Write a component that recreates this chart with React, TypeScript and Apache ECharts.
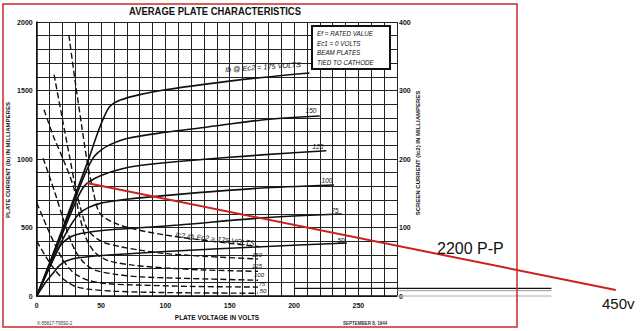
import React, { useEffect, useRef } from "react";
import * as echarts from "echarts";

// ---- data (plate voltage V, current) ----
// Plate current Ib (mA, left axis) for each screen voltage
const ib175 = [[0,0],[10,240],[20,490],[30,740],[40,990],[47,1180],[52,1300],[57,1385],[65,1430],[80,1470],[100,1505],[130,1545],[170,1590],[212,1628]];
const ib150 = [[0,0],[10,235],[20,475],[30,715],[38,900],[44,1010],[50,1065],[57,1105],[70,1150],[100,1195],[130,1230],[175,1285],[220,1314]];
const ib125 = [[0,0],[10,225],[20,455],[30,680],[36,790],[40,830],[50,880],[65,925],[80,952],[110,982],[175,1030],[225,1060]];
const ib100 = [[0,0],[10,210],[20,410],[27,525],[33,600],[40,645],[50,678],[65,700],[80,716],[110,742],[175,788],[231,810]];
const ib75 = [[0,0],[8,170],[14,290],[19,375],[24,418],[30,445],[40,465],[55,482],[80,498],[110,518],[175,570],[237,598]];
const ib50 = [[0,0],[7,100],[13,170],[18,225],[23,255],[30,275],[40,287],[56,299],[100,325],[175,360],[241,387]];
// Screen current Ic2 (mA, right axis)
const ic175 = [[25,381],[30,312],[35,248],[39,199],[44,152],[49,121],[60,107],[75,98],[100,89],[127,82],[173,72]];
const ic150 = [[13.5,323],[20,258],[26,199],[30,160],[35,122],[40,96],[50,80],[65,72],[80,67],[100,62],[130,58],[172,54]];
const ic125 = [[5.7,272],[13,233],[20.7,199],[28.5,160],[33,120],[38,86],[45,64],[55,52],[75,45],[100,41],[130,38],[172,36]];
const ic100 = [[5,201],[10,174],[15,146],[20,116],[25,88],[30,66],[37,48],[45,38],[60,32],[80,28],[110,26],[172,23]];
const ic75 = [[0,136],[5,114],[10,92],[15,72],[20,54],[25,41],[30,32],[40,23],[55,18],[80,16],[120,14],[172,13]];
const ic50 = [[0,80],[5,64],[10,49],[15,36],[20,26],[25,19],[30,14],[40,10],[60,7],[100,5],[172,4]];
// Load line (2200 P-P, 450 V)
const loadLine = [[39,825],[450,44]];
// extra baseline strokes beyond the grid
const baseBlack = [[200,56],[400,56]];
const baseGray1 = [[280,39],[400,39]];
const baseGray2 = [[280,0],[400,0]];

const xTickLabels = [0, 50, 100, 150, 200, 250];
const leftTickLabels = [0, 500, 1000, 1500, 2000];
const boxLines = ["Ef = RATED VALUE", "Ec1 = 0 VOLTS", "BEAM PLATES", "TIED TO CATHODE"];
const solidLabels = ["150", "125", "100", "75", "50"];
const dashLabels = ["150", "125", "100", "75", "50"];

const FONT = "Liberation Sans, Arial, sans-serif";
const PX_PER_V = 360.3 / 280;
const EXT_MAX = 460;

export default function App() {
  const ref = useRef<HTMLDivElement>(null);
  useEffect(() => {
    if (!ref.current) return;
    const chart = echarts.init(ref.current, null, { renderer: "svg" });
    const solid = (data: number[][]) => ({
      type: "line", data, xAxisIndex: 0, yAxisIndex: 0, showSymbol: false, smooth: 0.3,
      lineStyle: { color: "#111", width: 1.6 }, silent: true,
    });
    const dashed = (data: number[][]) => ({
      type: "line", data, xAxisIndex: 0, yAxisIndex: 1, showSymbol: false, smooth: 0.3,
      lineStyle: { color: "#111", width: 1.4, type: [6, 3] }, silent: true,
    });
    const plain = (data: number[][], color: string, width: number, z = 2) => ({
      type: "line", data, xAxisIndex: 1, yAxisIndex: 2, showSymbol: false, clip: false, z,
      lineStyle: { color, width }, silent: true,
    });
    const axisLabelStyle = { fontSize: 7, fontWeight: "bold", color: "#111", fontFamily: FONT };
    const solidLabelPos = [[311,110],[318,146],[327,180],[335,210],[341,240]];
    const dashLabelPos = [[257,255],[257,266],[259,275],[262,284],[263,291]];
    const italic = (text: string, x: number, y: number, rot = 0, size = 6.5) => ({
      type: "text", x, y, rotation: rot, z: 10,
      style: { text, fill: "#111", font: `italic ${size}px ${FONT}`, align: "center", verticalAlign: "middle" },
    });
    const option: any = {
      animation: false,
      backgroundColor: "#fff",
      grid: [
        { left: 36.7, top: 22, width: 360.3, height: 274 },
        { left: 36.7, top: 22, width: EXT_MAX * PX_PER_V, height: 274 },
      ],
      xAxis: [
        {
          type: "value", gridIndex: 0, min: 0, max: 280, interval: 10,
          axisLine: { lineStyle: { color: "#111", width: 1.5 } },
          axisTick: { show: false },
          splitLine: { lineStyle: { color: "#222", width: 1 } },
          axisLabel: { ...axisLabelStyle, margin: 6, formatter: (v: number) => (xTickLabels.includes(v) ? String(v) : "") },
        },
        { type: "value", gridIndex: 1, min: 0, max: EXT_MAX, show: false },
      ],
      yAxis: [
        {
          type: "value", gridIndex: 0, min: 0, max: 2000, interval: 100,
          axisLine: { show: true, lineStyle: { color: "#111", width: 1.5 } },
          axisTick: { show: false },
          splitLine: { lineStyle: { color: "#222", width: 1 } },
          axisLabel: { ...axisLabelStyle, margin: 4, formatter: (v: number) => (leftTickLabels.includes(v) ? String(v) : "") },
        },
        {
          type: "value", gridIndex: 0, min: 0, max: 400, interval: 100, position: "right",
          axisLine: { show: false }, axisTick: { show: false }, splitLine: { show: false },
          axisLabel: { ...axisLabelStyle, margin: 2 },
        },
        { type: "value", gridIndex: 1, min: 0, max: 2000, show: false },
      ],
      series: [
        solid(ib175), solid(ib150), solid(ib125), solid(ib100), solid(ib75), solid(ib50),
        dashed(ic175), dashed(ic150), dashed(ic125), dashed(ic100), dashed(ic75), dashed(ic50),
        plain(baseBlack, "#111", 1.3), plain(baseGray1, "#999", 1), plain(baseGray2, "#aaa", 1),
        plain(loadLine, "#cc2020", 2, 5),
      ],
      graphic: [
        { type: "rect", shape: { x: 3, y: 4, width: 514, height: 323 }, style: { fill: "none", stroke: "#c82828", lineWidth: 1.5 }, z: 20 },
        { type: "text", x: 215, y: 11.5, scaleX: 0.86, z: 10,
          style: { text: "AVERAGE PLATE CHARACTERISTICS", fill: "#111", font: `bold 11px ${FONT}`, align: "center", verticalAlign: "middle" } },
        { type: "text", x: 8, y: 160, rotation: Math.PI / 2, z: 10,
          style: { text: "PLATE CURRENT (Ib) IN MILLIAMPERES", fill: "#111", font: `bold 6px ${FONT}`, align: "center", verticalAlign: "middle" } },
        { type: "text", x: 418, y: 153, rotation: Math.PI / 2, z: 10,
          style: { text: "SCREEN CURRENT (Ic2) IN MILLIAMPERES", fill: "#111", font: `bold 6px ${FONT}`, align: "center", verticalAlign: "middle" } },
        { type: "text", x: 217, y: 317, z: 10,
          style: { text: "PLATE VOLTAGE IN VOLTS", fill: "#111", font: `bold 6.5px ${FONT}`, align: "center", verticalAlign: "middle" } },
        { type: "text", x: 37, y: 323, z: 10,
          style: { text: "X-55817-T9592-2", fill: "#333", font: `4.5px ${FONT}`, align: "left", verticalAlign: "middle" } },
        { type: "text", x: 343, y: 323, z: 10,
          style: { text: "SEPTEMBER 8, 1944", fill: "#333", font: `bold 4.5px ${FONT}`, align: "left", verticalAlign: "middle" } },
        { type: "rect", shape: { x: 312, y: 26, width: 78, height: 43 }, style: { fill: "#fff", stroke: "#111", lineWidth: 2 }, z: 8 },
        ...boxLines.map((t, i) => ({
          type: "text", x: 317, y: 33.3 + i * 9.8, z: 10,
          style: { text: t, fill: "#111", font: `italic 6.3px ${FONT}`, align: "left", verticalAlign: "middle" },
        })),
        italic("Ib @ Ec2 = 175 VOLTS", 263, 67, 0.07, 7.3),
        ...solidLabels.map((t, i) => italic(t, solidLabelPos[i][0], solidLabelPos[i][1])),
        italic("Ic2 @ Ec2 = 175 VOLTS", 215, 239, -0.11, 7.3),
        ...dashLabels.map((t, i) => italic(t, dashLabelPos[i][0], dashLabelPos[i][1], 0, 6)),
        { type: "text", x: 437, y: 248, z: 10,
          style: { text: "2200 P-P", fill: "#111", font: `16px ${FONT}`, align: "left", verticalAlign: "middle" } },
        { type: "text", x: 602, y: 303.5, z: 10,
          style: { text: "450v", fill: "#111", font: `15px ${FONT}`, align: "left", verticalAlign: "middle" } },
      ],
    };
    chart.setOption(option);
    return () => chart.dispose();
  }, []);
  return <div ref={ref} style={{ position: "absolute", left: 0, top: 0, width: 640, height: 331, background: "#fff" }} />;
}
